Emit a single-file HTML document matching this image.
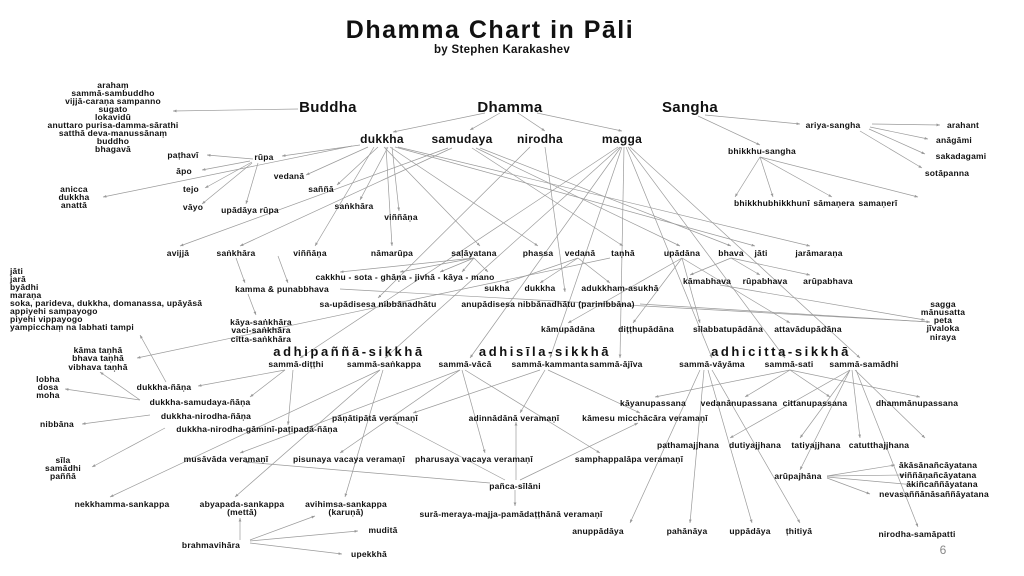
<!DOCTYPE html>
<html><head><meta charset="utf-8"><style>
html,body{margin:0;padding:0;background:#fff;}
svg{display:block;}
text{font-family:"Liberation Sans",sans-serif;font-weight:bold;fill:#111;font-size:8.5px;letter-spacing:0.2px;text-anchor:middle;}
line{stroke:#9a9a9a;stroke-width:0.7;marker-end:url(#a);}
.l text{text-anchor:start;}
.h{font-size:15px;letter-spacing:0.3px;}
.m{font-size:12px;letter-spacing:0.3px;}
.s{font-size:13px;letter-spacing:2.6px;font-weight:900;}
</style></head><body>
<svg width="1024" height="576" viewBox="0 0 1024 576" xmlns="http://www.w3.org/2000/svg">
<defs><marker id="a" markerWidth="5" markerHeight="4" refX="5" refY="2" orient="auto"><path d="M0,0L5,2L0,4z" fill="#999"/></marker></defs>
<text x="490" y="38" style="font-size:25px;letter-spacing:1.5px">Dhamma Chart in Pāli</text>
<text x="502" y="53" style="font-size:11.5px;letter-spacing:0.3px">by Stephen Karakashev</text>

<g>
<line x1="298" y1="109" x2="173" y2="111"/>
<line x1="485" y1="113" x2="393" y2="132"/><line x1="500" y1="113" x2="470" y2="130"/>
<line x1="518" y1="113" x2="545" y2="131"/><line x1="537" y1="113" x2="622" y2="131"/>
<line x1="705" y1="115" x2="800" y2="124"/><line x1="698" y1="116" x2="760" y2="145"/>
<line x1="872" y1="124" x2="940" y2="125"/><line x1="870" y1="127" x2="928" y2="139"/>
<line x1="869" y1="129" x2="925" y2="154"/><line x1="860" y1="131" x2="922" y2="168"/>
<line x1="760" y1="157" x2="735" y2="197"/><line x1="760" y1="157" x2="773" y2="197"/>
<line x1="760" y1="157" x2="832" y2="197"/><line x1="760" y1="157" x2="918" y2="197"/>
<line x1="360" y1="145" x2="282" y2="156"/><line x1="368" y1="147" x2="306" y2="175"/>
<line x1="378" y1="147" x2="337" y2="185"/><line x1="388" y1="147" x2="360" y2="200"/>
<line x1="392" y1="147" x2="399" y2="211"/><line x1="352" y1="146" x2="103" y2="197"/>
<line x1="253" y1="159" x2="207" y2="155"/><line x1="250" y1="161" x2="202" y2="170"/>
<line x1="252" y1="162" x2="205" y2="188"/><line x1="252" y1="163" x2="202" y2="204"/>
<line x1="258" y1="163" x2="246" y2="204"/>
<line x1="384" y1="147" x2="480" y2="246"/><line x1="390" y1="147" x2="538" y2="246"/>
<line x1="395" y1="147" x2="755" y2="246"/><line x1="398" y1="147" x2="810" y2="246"/>
<line x1="386" y1="147" x2="392" y2="246"/><line x1="374" y1="147" x2="315" y2="246"/>
<line x1="448" y1="148" x2="180" y2="246"/><line x1="452" y1="148" x2="240" y2="246"/>
<line x1="472" y1="148" x2="623" y2="246"/><line x1="476" y1="148" x2="680" y2="246"/>
<line x1="480" y1="148" x2="731" y2="246"/>
<line x1="530" y1="147" x2="378" y2="298"/><line x1="545" y1="147" x2="565" y2="292"/>
<line x1="618" y1="147" x2="300" y2="358"/><line x1="620" y1="147" x2="385" y2="358"/>
<line x1="621" y1="147" x2="470" y2="358"/><line x1="622" y1="147" x2="550" y2="358"/>
<line x1="624" y1="147" x2="620" y2="358"/><line x1="626" y1="147" x2="712" y2="358"/>
<line x1="628" y1="147" x2="785" y2="358"/><line x1="630" y1="147" x2="860" y2="358"/>
<line x1="474" y1="258" x2="340" y2="272"/><line x1="474" y1="258" x2="400" y2="272"/>
<line x1="474" y1="258" x2="440" y2="272"/><line x1="474" y1="258" x2="462" y2="272"/>
<line x1="474" y1="258" x2="488" y2="272"/>
<line x1="236" y1="258" x2="245" y2="283"/><line x1="278" y1="256" x2="288" y2="283"/>
<line x1="248" y1="294" x2="256" y2="315"/>
<line x1="578" y1="258" x2="505" y2="283"/><line x1="578" y1="258" x2="540" y2="283"/>
<line x1="578" y1="258" x2="610" y2="283"/>
<line x1="682" y1="258" x2="568" y2="323"/><line x1="682" y1="258" x2="633" y2="323"/>
<line x1="682" y1="258" x2="700" y2="323"/><line x1="682" y1="258" x2="790" y2="323"/>
<line x1="731" y1="258" x2="690" y2="275"/><line x1="731" y1="258" x2="760" y2="275"/>
<line x1="731" y1="258" x2="810" y2="275"/>
<line x1="610" y1="258" x2="137" y2="358"/>
<line x1="340" y1="289" x2="930" y2="322"/><line x1="640" y1="304" x2="930" y2="322"/>
<line x1="720" y1="285" x2="925" y2="320"/>
<line x1="166" y1="382" x2="140" y2="335"/><line x1="140" y1="400" x2="100" y2="372"/>
<line x1="140" y1="400" x2="65" y2="389"/><line x1="150" y1="415" x2="82" y2="424"/>
<line x1="165" y1="428" x2="92" y2="467"/>
<line x1="285" y1="370" x2="198" y2="386"/><line x1="285" y1="370" x2="250" y2="397"/>
<line x1="293" y1="370" x2="288" y2="425"/>
<line x1="380" y1="370" x2="110" y2="497"/><line x1="380" y1="370" x2="235" y2="497"/>
<line x1="383" y1="370" x2="345" y2="497"/>
<line x1="460" y1="370" x2="240" y2="453"/><line x1="460" y1="370" x2="340" y2="453"/>
<line x1="462" y1="370" x2="485" y2="453"/><line x1="465" y1="370" x2="600" y2="453"/>
<line x1="540" y1="370" x2="413" y2="413"/><line x1="545" y1="370" x2="520" y2="413"/>
<line x1="548" y1="370" x2="640" y2="413"/>
<line x1="490" y1="483" x2="245" y2="462"/><line x1="505" y1="480" x2="395" y2="422"/>
<line x1="520" y1="480" x2="638" y2="423"/><line x1="515" y1="490" x2="515" y2="506"/>
<line x1="516" y1="480" x2="516" y2="422"/>
<line x1="240" y1="540" x2="240" y2="518"/><line x1="250" y1="540" x2="315" y2="516"/>
<line x1="250" y1="541" x2="358" y2="531"/><line x1="250" y1="543" x2="342" y2="554"/>
<line x1="700" y1="370" x2="630" y2="523"/><line x1="704" y1="370" x2="690" y2="523"/>
<line x1="708" y1="370" x2="752" y2="523"/><line x1="712" y1="370" x2="800" y2="523"/>
<line x1="790" y1="370" x2="655" y2="397"/><line x1="790" y1="370" x2="745" y2="397"/>
<line x1="790" y1="370" x2="830" y2="397"/><line x1="790" y1="370" x2="920" y2="397"/>
<line x1="850" y1="370" x2="730" y2="438"/><line x1="850" y1="370" x2="800" y2="438"/>
<line x1="852" y1="370" x2="860" y2="438"/><line x1="855" y1="370" x2="925" y2="438"/>
<line x1="850" y1="370" x2="800" y2="470"/><line x1="856" y1="370" x2="918" y2="527"/>
<line x1="827" y1="476" x2="895" y2="465"/><line x1="827" y1="476" x2="905" y2="475"/>
<line x1="827" y1="477" x2="915" y2="485"/><line x1="827" y1="478" x2="870" y2="494"/>
</g>

<text class="h" x="328" y="112">Buddha</text>
<text class="h" x="510" y="112">Dhamma</text>
<text class="h" x="690" y="112">Sangha</text>
<text x="113" y="88">arahaṃ</text><text x="113" y="96">sammā-sambuddho</text>
<text x="113" y="104">vijjā-caraṇa sampanno</text><text x="113" y="112">sugato</text>
<text x="113" y="120">lokavidū</text><text x="113" y="128">anuttaro purisa-damma-sārathi</text>
<text x="113" y="136">satthā deva-manussānaṃ</text><text x="113" y="144">buddho</text>
<text x="113" y="152">bhagavā</text>
<text class="m" x="382" y="143">dukkha</text><text class="m" x="462" y="143">samudaya</text>
<text class="m" x="540" y="143">nirodha</text><text class="m" x="622" y="143">magga</text>
<text x="183" y="158">paṭhavī</text><text x="264" y="160">rūpa</text><text x="184" y="174">āpo</text>
<text x="289" y="179">vedanā</text><text x="74" y="192">anicca</text><text x="74" y="200">dukkha</text>
<text x="74" y="208">anattā</text><text x="191" y="192">tejo</text><text x="193" y="210">vāyo</text>
<text x="250" y="213">upādāya rūpa</text><text x="321" y="192">saññā</text>
<text x="354" y="209">saṅkhāra</text><text x="401" y="220">viññāṇa</text>
<text x="833" y="128">ariya-sangha</text><text x="963" y="128">arahant</text>
<text x="954" y="143">anāgāmi</text><text x="961" y="159">sakadagami</text>
<text x="947" y="176">sotāpanna</text><text x="762" y="154">bhikkhu-sangha</text>
<text x="751" y="206">bhikkhu</text><text x="789" y="206">bhikkhunī</text>
<text x="834" y="206">sāmaṇera</text><text x="878" y="206">samaṇerī</text>
<text x="178" y="256">avijjā</text><text x="236" y="256">saṅkhāra</text><text x="310" y="256">viññāṇa</text>
<text x="392" y="256">nāmarūpa</text><text x="474" y="256">saḷāyatana</text><text x="538" y="256">phassa</text>
<text x="580" y="256">vedanā</text><text x="623" y="256">taṇhā</text><text x="682" y="256">upādāna</text>
<text x="731" y="256">bhava</text><text x="761" y="256">jāti</text><text x="819" y="256">jarāmaraṇa</text>
<text x="405" y="280">cakkhu - sota - ghāṇa - jivhā - kāya - mano</text>
<text x="497" y="291">sukha</text><text x="540" y="291">dukkha</text><text x="620" y="291">adukkham-asukhā</text>
<text x="282" y="292">kamma &amp; punabbhava</text>
<text x="378" y="307">sa-upādisesa nibbānadhātu</text>
<text x="548" y="307">anupādisesa nibbānadhātu (parinibbāna)</text>
<text x="707" y="284">kāmabhava</text><text x="765" y="284">rūpabhava</text><text x="828" y="284">arūpabhava</text>
<g class="l"><text x="10" y="274">jāti</text><text x="10" y="282">jarā</text><text x="10" y="290">byādhi</text>
<text x="10" y="298">maraṇa</text><text x="10" y="306">soka, parideva, dukkha, domanassa, upāyāsā</text>
<text x="10" y="314">appiyehi sampayogo</text><text x="10" y="322">piyehi vippayogo</text>
<text x="10" y="330">yampicchaṃ na labhati tampi</text></g>
<text x="261" y="325">kāya-saṅkhāra</text><text x="261" y="333">vaci-saṅkhāra</text><text x="261" y="342">citta-saṅkhāra</text>
<text x="943" y="307">sagga</text><text x="943" y="315">mānusatta</text><text x="943" y="323">peta</text>
<text x="943" y="331">jīvaloka</text><text x="943" y="340">niraya</text>
<text x="568" y="332">kāmupādāna</text><text x="646" y="332">diṭṭhupādāna</text>
<text x="728" y="332">sīlabbatupādāna</text><text x="808" y="332">attavādupādāna</text>
<text class="s" x="349" y="356">adhipaññā-sikkhā</text><text class="s" x="545" y="356">adhisīla-sikkhā</text>
<text class="s" x="781" y="356">adhicitta-sikkhā</text>
<text x="98" y="353">kāma taṇhā</text><text x="98" y="361">bhava taṇhā</text><text x="98" y="370">vibhava taṇhā</text>
<text x="296" y="367">sammā-diṭṭhi</text><text x="384" y="367">sammā-saṅkappa</text>
<text x="465" y="367">sammā-vācā</text><text x="550" y="367">sammā-kammanta</text>
<text x="616" y="367">sammā-ājīva</text><text x="712" y="367">sammā-vāyāma</text>
<text x="789" y="367">sammā-sati</text><text x="864" y="367">sammā-samādhi</text>
<text x="48" y="382">lobha</text><text x="48" y="390">dosa</text><text x="48" y="398">moha</text>
<text x="164" y="390">dukkha-ñāṇa</text><text x="200" y="405">dukkha-samudaya-ñāṇa</text>
<text x="206" y="419">dukkha-nirodha-ñāṇa</text><text x="57" y="427">nibbāna</text>
<text x="257" y="432">dukkha-nirodha-gāminī-paṭipadā-ñāṇa</text>
<text x="653" y="406">kāyanupassana</text><text x="739" y="406">vedanānupassana</text>
<text x="815" y="406">cittanupassana</text><text x="917" y="406">dhammānupassana</text>
<text x="375" y="421">pāṇātipātā veramaṇī</text><text x="514" y="421">adinnādānā veramaṇī</text>
<text x="645" y="421">kāmesu micchācāra veramaṇī</text>
<text x="688" y="448">pathamajjhana</text><text x="755" y="448">dutiyajjhana</text>
<text x="816" y="448">tatiyajjhana</text><text x="879" y="448">catutthajjhana</text>
<text x="63" y="463">sīla</text><text x="63" y="471">samādhi</text><text x="63" y="479">paññā</text>
<text x="226" y="462">musāvāda veramaṇī</text><text x="349" y="462">pisunaya vacaya veramaṇī</text>
<text x="474" y="462">pharusaya vacaya veramaṇī</text><text x="629" y="462">samphappalāpa veramaṇī</text>
<text x="938" y="468">ākāsānañcāyatana</text><text x="938" y="478">viññāṇañcāyatana</text>
<text x="942" y="487">ākiñcaññāyatana</text><text x="934" y="497">nevasaññānāsaññāyatana</text>
<text x="798" y="479">arūpajhāna</text><text x="515" y="489">pañca-sīlāni</text>
<text x="122" y="507">nekkhamma-sankappa</text><text x="242" y="507">abyapada-sankappa</text>
<text x="242" y="515">(mettā)</text><text x="346" y="507">avihimsa-sankappa</text><text x="346" y="515">(karuṇā)</text>
<text x="511" y="517">surā-meraya-majja-pamādaṭṭhānā veramaṇī</text>
<text x="598" y="534">anuppādāya</text><text x="687" y="534">pahānāya</text>
<text x="750" y="534">uppādāya</text><text x="799" y="534">ṭhitiyā</text>
<text x="917" y="537">nirodha-samāpatti</text>
<text x="383" y="533">muditā</text><text x="211" y="548">brahmavihāra</text><text x="369" y="557">upekkhā</text>
<text x="943" y="554" style="font-size:12px;font-weight:normal;fill:#888">6</text>
</svg>
</body></html>
